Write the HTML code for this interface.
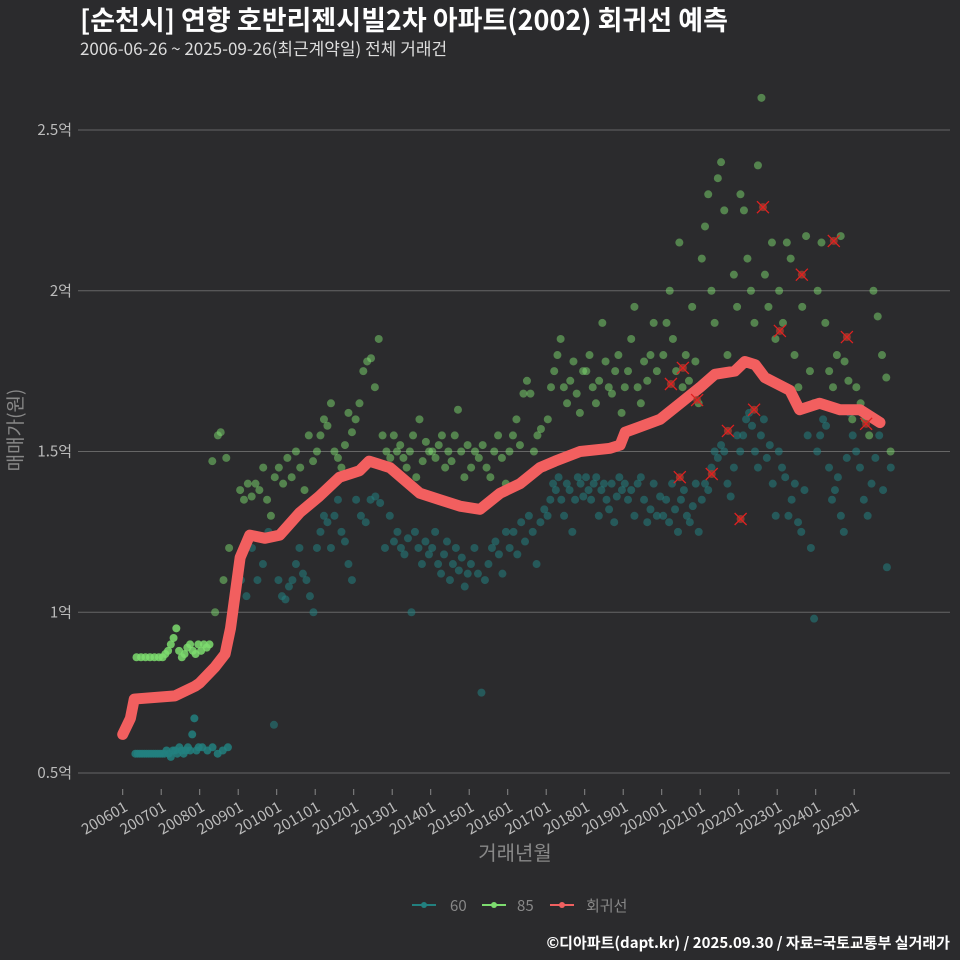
<!DOCTYPE html>
<html><head><meta charset="utf-8"><style>
body{margin:0;background:#2b2b2d;}
svg{display:block;font-family:"Noto Sans CJK KR","Liberation Sans",sans-serif;}
</style></head><body>
<svg id="c" width="960" height="960">
<rect width="960" height="960" fill="#2b2b2d"/>
<text x="80" y="30" fill="#fff" font-size="27" font-weight="bold">[순천시] 연향 호반리젠시빌2차 아파트(2002) 회귀선 예측</text>
<text x="80" y="55" fill="#ddd" font-size="17">2006-06-26 ~ 2025-09-26(최근계약일) 전체 거래건</text>
<g id="grid"></g><g id="pts"></g><g id="line"></g><g id="out"></g><g id="ax"></g>
<text x="22" y="430" fill="#888" font-size="19" transform="rotate(-90 22 430)" text-anchor="middle">매매가(원)</text>
<text x="515" y="860" fill="#888" font-size="20" text-anchor="middle">거래년월</text>
<g>
<g><line x1="412" y1="905" x2="436" y2="905" stroke="#22807f" stroke-width="2"/><circle cx="424" cy="905" r="3" fill="#22807f"/><text x="450" y="911" fill="#888" font-size="15">60</text></g>
<g><line x1="482" y1="905" x2="506" y2="905" stroke="#7ddc6f" stroke-width="2"/><circle cx="494" cy="905" r="3" fill="#7ddc6f"/><text x="517" y="911" fill="#888" font-size="15">85</text></g>
<g><line x1="550" y1="905" x2="574" y2="905" stroke="#f06060" stroke-width="2"/><circle cx="562" cy="905" r="3" fill="#f06060"/><text x="586" y="911" fill="#888" font-size="15">회귀선</text></g>
</g>
<text x="950" y="948" fill="#fff" font-size="15" font-weight="bold" text-anchor="end">©디아파트(dapt.kr) / 2025.09.30 / 자료=국토교통부 실거래가</text>
</svg>
<script>
const yTicks=[0.5,1,1.5,2,2.5];
const yTickLabels=["0.5억","1억","1.5억","2억","2.5억"];
const xTickYears=[2006,2007,2008,2009,2010,2011,2012,2013,2014,2015,2016,2017,2018,2019,2020,2021,2022,2023,2024,2025];
const xTickLabels=["200601","200701","200801","200901","201001","201101","201201","201301","201401","201501","201601","201701","201801","201901","202001","202101","202201","202301","202401","202501"];
const years=[2006,2007,2008,2009,2010,2011,2012,2013,2014,2015,2016,2017,2018,2019,2020,2021,2022,2023,2024,2025];
const vals60=[
[.56,.56,.56,.56,.56,.56,.56,.56,.56,.56,.56,.56],
[.56,.56,.57,.56,.55,.57,.57,.56,.58,.57,.56,.57,.58,.57,.62,.67,.57,.58],
[.58,.57,.58,.56,.57,.58],
[1.1,1.05,1.2,1.1,1.15,1.25,0.65],
[1.1,1.05,1.04,1.08,1.1,1.15,1.2,1.12,1.1,1.05,1.0],
[1.2,1.25,1.3,1.28,1.2,1.3,1.35,1.25,1.22,1.15,1.1],
[1.35,1.3,1.28,1.35,1.36,1.34,1.2,1.3],
[1.22,1.25,1.2,1.18,1.23,1.0,1.25,1.2,1.15,1.22,1.18],
[1.2,1.25,1.15,1.12,1.18,1.22,1.1,1.15,1.2,1.13,1.17,1.08,1.12],
[1.15,1.2,1.12,0.75,1.1,1.15,1.2,1.22,1.18,1.12,1.25],
[1.2,1.25,1.18,1.28,1.22,1.3,1.25,1.15,1.28,1.32],
[1.3,1.35,1.4,1.38,1.42,1.35,1.3,1.4,1.38,1.25,1.35,1.42,1.4,1.36],
[1.42,1.38,1.35,1.4,1.42,1.3,1.38,1.4,1.35,1.32,1.4,1.28,1.36,1.42,1.38],
[1.4,1.35,1.38,1.3,1.4,1.42,1.35,1.28,1.32,1.4,1.3,1.36],
[1.3,1.35,1.28,1.4,1.32,1.25,1.35,1.38,1.3,1.28,1.33,1.4,1.25],
[1.35,1.4,1.38,1.45,1.5,1.48,1.52,1.5,1.4,1.36,1.45,1.55],
[1.5,1.55,1.6,1.62,1.58,1.5,1.45,1.55,1.6,1.48,1.52,1.4,1.3],
[1.5,1.45,1.42,1.3,1.35,1.4,1.28,1.25,1.38,1.55,1.2,0.98],
[1.5,1.55,1.6,1.58,1.45,1.35,1.38,1.42,1.3,1.25,1.48,1.62,1.55],
[1.5,1.45,1.35,1.3,1.4,1.48,1.55,1.38,1.14,1.45]];
const vals85=[
[.86,.86,.86,.86,.86,.86],
[.86,.87,.88,.9,.92,.95,.88,.86,.87,.89,.9,.88,.87,.9],
[.88,.9,.89,.9,1.47,1.0,1.55,1.56,1.1,1.48,1.2],
[1.38,1.35,1.4,1.36,1.4,1.38,1.45,1.35,1.3,1.42],
[1.45,1.4,1.48,1.42,1.5,1.45,1.38,1.55,1.47],
[1.5,1.55,1.6,1.58,1.65,1.5,1.48,1.45,1.52,1.62,1.56],
[1.6,1.65,1.75,1.78,1.79,1.7,1.85,1.55,1.5,1.48],
[1.55,1.5,1.52,1.48,1.45,1.5,1.55,1.42,1.6,1.47,1.53,1.5],
[1.5,1.48,1.52,1.55,1.45,1.5,1.47,1.55,1.63,1.5,1.42,1.52],
[1.45,1.5,1.48,1.52,1.45,1.42,1.5,1.55,1.48,1.4],
[1.5,1.55,1.6,1.52,1.68,1.72,1.68,1.5,1.55,1.57,1.45],
[1.6,1.7,1.75,1.8,1.85,1.7,1.65,1.72,1.78,1.68,1.62,1.75],
[1.75,1.8,1.7,1.65,1.72,1.9,1.78,1.7,1.68,1.75,1.8,1.62],
[1.7,1.75,1.85,1.95,1.7,1.65,1.78,1.72,1.8,1.9,1.75,1.6],
[1.8,1.9,2.0,1.85,1.75,2.15,1.7,1.8,1.72,1.95,1.78,1.65],
[2.1,2.2,2.3,2.0,1.9,2.35,2.4,2.25,1.8,1.75,2.05,1.95],
[2.3,2.25,2.1,2.0,1.9,2.39,2.6,2.05,1.95,2.15,1.85],
[2.0,1.9,2.15,2.1,1.8,1.7,1.95,2.17,1.75,1.65],
[2.0,2.15,1.9,1.75,1.7,1.8,2.17,1.78,1.72,1.6],
[1.7,1.65,1.6,1.55,2.0,1.92,1.8,1.73,1.5]];
const regT=[2006.0,2006.2,2006.3,2007.36,2007.88,2008.0,2008.4,2008.66,2008.8,2009.05,2009.3,2009.7,2010.08,2010.6,2011.1,2011.63,2012.15,2012.4,2012.94,2013.72,2014.24,2014.76,2015.28,2015.8,2016.32,2016.84,2017.23,2017.88,2018.66,2018.92,2019.05,2019.96,2020.48,2021.0,2021.38,2021.9,2022.16,2022.43,2022.68,2023.33,2023.58,2024.1,2024.63,2025.15,2025.67];
const regV=[0.62,0.67,0.73,0.74,0.77,0.78,0.83,0.87,0.95,1.17,1.24,1.23,1.24,1.31,1.36,1.42,1.44,1.47,1.45,1.37,1.35,1.33,1.32,1.37,1.40,1.45,1.47,1.50,1.51,1.52,1.56,1.60,1.65,1.70,1.74,1.75,1.78,1.77,1.73,1.69,1.63,1.65,1.63,1.63,1.59];
const outT=[2022.63,2024.47,2023.64,2023.07,2024.81,2020.55,2020.24,2020.92,2022.4,2021.72,2025.31,2020.47,2021.3,2022.05];
const outV=[2.26,2.155,2.05,1.875,1.856,1.76,1.71,1.66,1.63,1.564,1.586,1.42,1.43,1.29];
const X=t=>122.7+(t-2006)*38.5, Y=v=>773-(v-0.5)*321.5;
const NS="http://www.w3.org/2000/svg";
function mk(tag,attrs,parent){const e=document.createElementNS(NS,tag);for(const k in attrs)e.setAttribute(k,attrs[k]);parent.appendChild(e);return e;}
const g=document.getElementById('grid'),ax=document.getElementById('ax');
yTicks.forEach((v,i)=>{
 const l=mk('line',{x1:78,x2:950,y1:Y(v),y2:Y(v),stroke:'#666','stroke-width':1},g);
 
 
 const t=mk('text',{x:72,y:Y(v)+5,fill:'#bbb','font-size':15,'text-anchor':'end'},ax);t.textContent=yTickLabels[i];
 
 
});
xTickYears.forEach((yr,i)=>{
 const x=X(yr);
 const tk=mk('line',{x1:x,x2:x,y1:789,y2:795,stroke:'#888'},ax);
 
 
 const t=mk('text',{x:x+6,y:810,fill:'#bbb','font-size':15,'text-anchor':'end',transform:`rotate(-30 ${x+6} 810)`},ax);t.textContent=xTickLabels[i];
 
 
});
const p=document.getElementById('pts');
function series(vals,color,op,name){
 vals.forEach((arr,yi)=>{arr.forEach((v,i)=>{
  let t=years[yi]+(i+0.5)/arr.length;
  if(years[yi]===2006) t=years[yi]+0.3+0.7*(i+0.5)/arr.length;
  if(years[yi]===2008) t=years[yi]+0.8*(i+0.5)/arr.length;
  const c=mk('circle',{cx:X(t),cy:Y(v),r:4,fill:color,'fill-opacity':(years[yi]<=2008&&v<1)?0.85:op},p);
  
  
 });});
}
series(vals60,'#22807f',0.55,'point-60');
series(vals85,'#7ddc6f',0.5,'point-85');
const pl=mk('polyline',{points:regT.map((t,i)=>X(t)+','+Y(regV[i])).join(' '),fill:'none',stroke:'#f25f5f','stroke-width':11,'stroke-linejoin':'round','stroke-linecap':'round'},document.getElementById('line'));


const o=document.getElementById('out');
outT.forEach((t,i)=>{const x=X(t),y=Y(outV[i]);
 const gg=mk('g',{},o);
 
 
 mk('circle',{cx:x,cy:y,r:4,fill:'#a04030','fill-opacity':0.8},gg);
 mk('path',{d:`M${x-6} ${y-6}L${x+6} ${y+6}M${x-6} ${y+6}L${x+6} ${y-6}`,stroke:'#e02020','stroke-width':1.3},gg);
});
</script>
</body></html>
